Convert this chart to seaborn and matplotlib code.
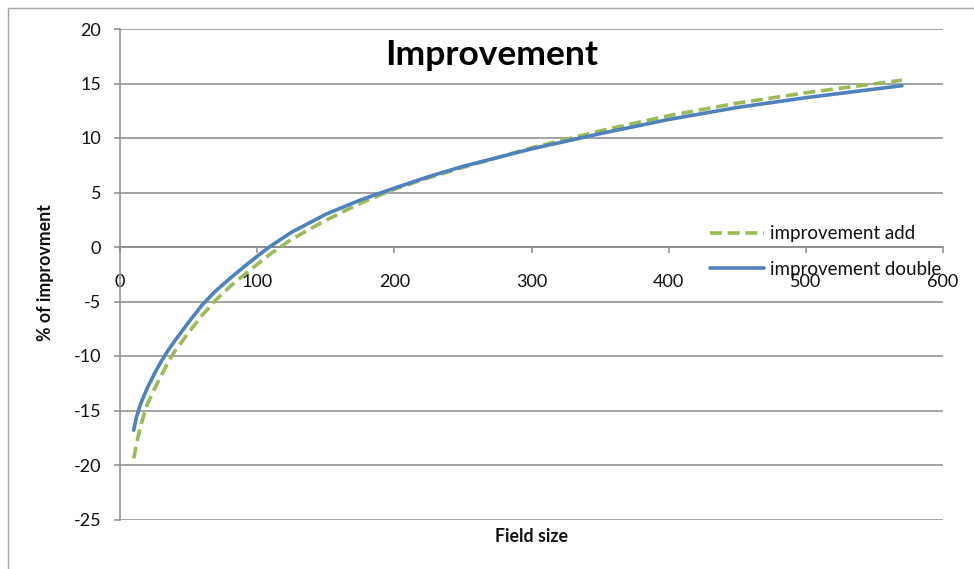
import matplotlib
matplotlib.use("Agg")
import matplotlib.pyplot as plt
from matplotlib.patches import Rectangle
import seaborn as sns
import pandas as pd

# Field sizes and the two improvement series (% of improvement)
field_size = [10, 12, 15, 20, 25, 30, 35, 40, 50, 60, 70, 80, 90, 100, 110,
              125, 150, 175, 200, 225, 250, 300, 350, 400, 450, 500, 570]
improvement_add = [-19.4, -18.1, -16.4, -14.4, -13.05, -11.8, -10.6, -9.55, -7.85,
                   -6.25, -4.85, -3.65, -2.6, -1.6, -0.6, 0.7, 2.45, 4.0, 5.3,
                   6.35, 7.3, 9.1, 10.65, 12.05, 13.2, 14.15, 15.3]
improvement_double = [-16.8, -15.6, -14.4, -12.9, -11.65, -10.5, -9.5, -8.6, -6.9,
                      -5.3, -4.0, -2.9, -1.85, -0.85, 0.1, 1.35, 3.0, 4.3, 5.4,
                      6.45, 7.4, 9.0, 10.4, 11.7, 12.8, 13.7, 14.8]

series_names = ["improvement add", "improvement double"]
x_ticks = [0, 100, 200, 300, 400, 500, 600]
y_ticks = [-25, -20, -15, -10, -5, 0, 5, 10, 15, 20]

df_add = pd.DataFrame({"Field size": field_size, "value": improvement_add})
df_double = pd.DataFrame({"Field size": field_size, "value": improvement_double})

sns.set_theme(style="white")
plt.rcParams["font.family"] = ["Lato", "DejaVu Sans"]

GRID = "#8a8a8a"
GREEN = "#9bbb59"
BLUE = "#4f81bd"
TEXT = "#111111"

fig = plt.figure(figsize=(9.74, 5.69), dpi=100)
ax = fig.add_axes([120 / 974, 1 - 519.5 / 569, (943 - 120) / 974, (519.5 - 29) / 569])

sns.lineplot(data=df_add, x="Field size", y="value", ax=ax, color=GREEN,
             linewidth=2.6, linestyle=(0, (3.3, 1.6)), label=series_names[0], zorder=3)
sns.lineplot(data=df_double, x="Field size", y="value", ax=ax, color=BLUE,
             linewidth=2.6, label=series_names[1], zorder=3)

ax.set_xlim(0, 600)
ax.set_ylim(-25, 20)
ax.set_xticks(x_ticks)
ax.set_yticks(y_ticks)
ax.set_xticklabels([str(t) for t in x_ticks])
ax.set_yticklabels([str(t) for t in y_ticks])

ax.yaxis.grid(True, color=GRID, linewidth=1.1)
ax.xaxis.grid(False)

for side in ("top", "right"):
    ax.spines[side].set_visible(False)
ax.spines["left"].set_color(GRID)
ax.spines["left"].set_linewidth(1.1)
ax.spines["bottom"].set_position(("data", 0))
ax.spines["bottom"].set_color(GRID)
ax.spines["bottom"].set_linewidth(1.1)

ax.tick_params(axis="y", direction="out", length=4.5, width=1.1, color=GRID,
               pad=9, labelsize=13, labelcolor=TEXT, left=True)
ax.tick_params(axis="x", direction="out", length=4.5, width=1.1, color=GRID,
               pad=15, labelsize=13, labelcolor=TEXT, bottom=True)

ax.set_xlabel("")
ax.set_ylabel("")
fig.text(531.5 / 974, 1 - 537 / 569, "Field size", ha="center", va="center",
         fontsize=12.8, fontweight="bold", color=TEXT)
fig.text(46 / 974, 1 - 273 / 569, "% of improvment", ha="center", va="center",
         rotation=90, fontsize=12.8, fontweight="bold", color=TEXT)
fig.text(492 / 974, 1 - 55 / 569, "Improvement", ha="center", va="center",
         fontsize=25.5, fontweight="bold", color="#000000")

leg = ax.legend(loc="center left", bbox_to_anchor=(710 / 974, 1 - 251.5 / 569),
                bbox_transform=fig.transFigure, frameon=False, fontsize=13.5,
                handlelength=2.9, handletextpad=0.32, labelspacing=0.97,
                borderpad=0, borderaxespad=0)
for t in leg.get_texts():
    t.set_color(TEXT)

# chart-area frame
fig.patches.append(Rectangle((8 / 974, -0.5), 2, 1.5 - 8 / 569,
                             transform=fig.transFigure, fill=False,
                             edgecolor="#a6a6a6", linewidth=1.0))

fig.savefig("out.png", dpi=100)
